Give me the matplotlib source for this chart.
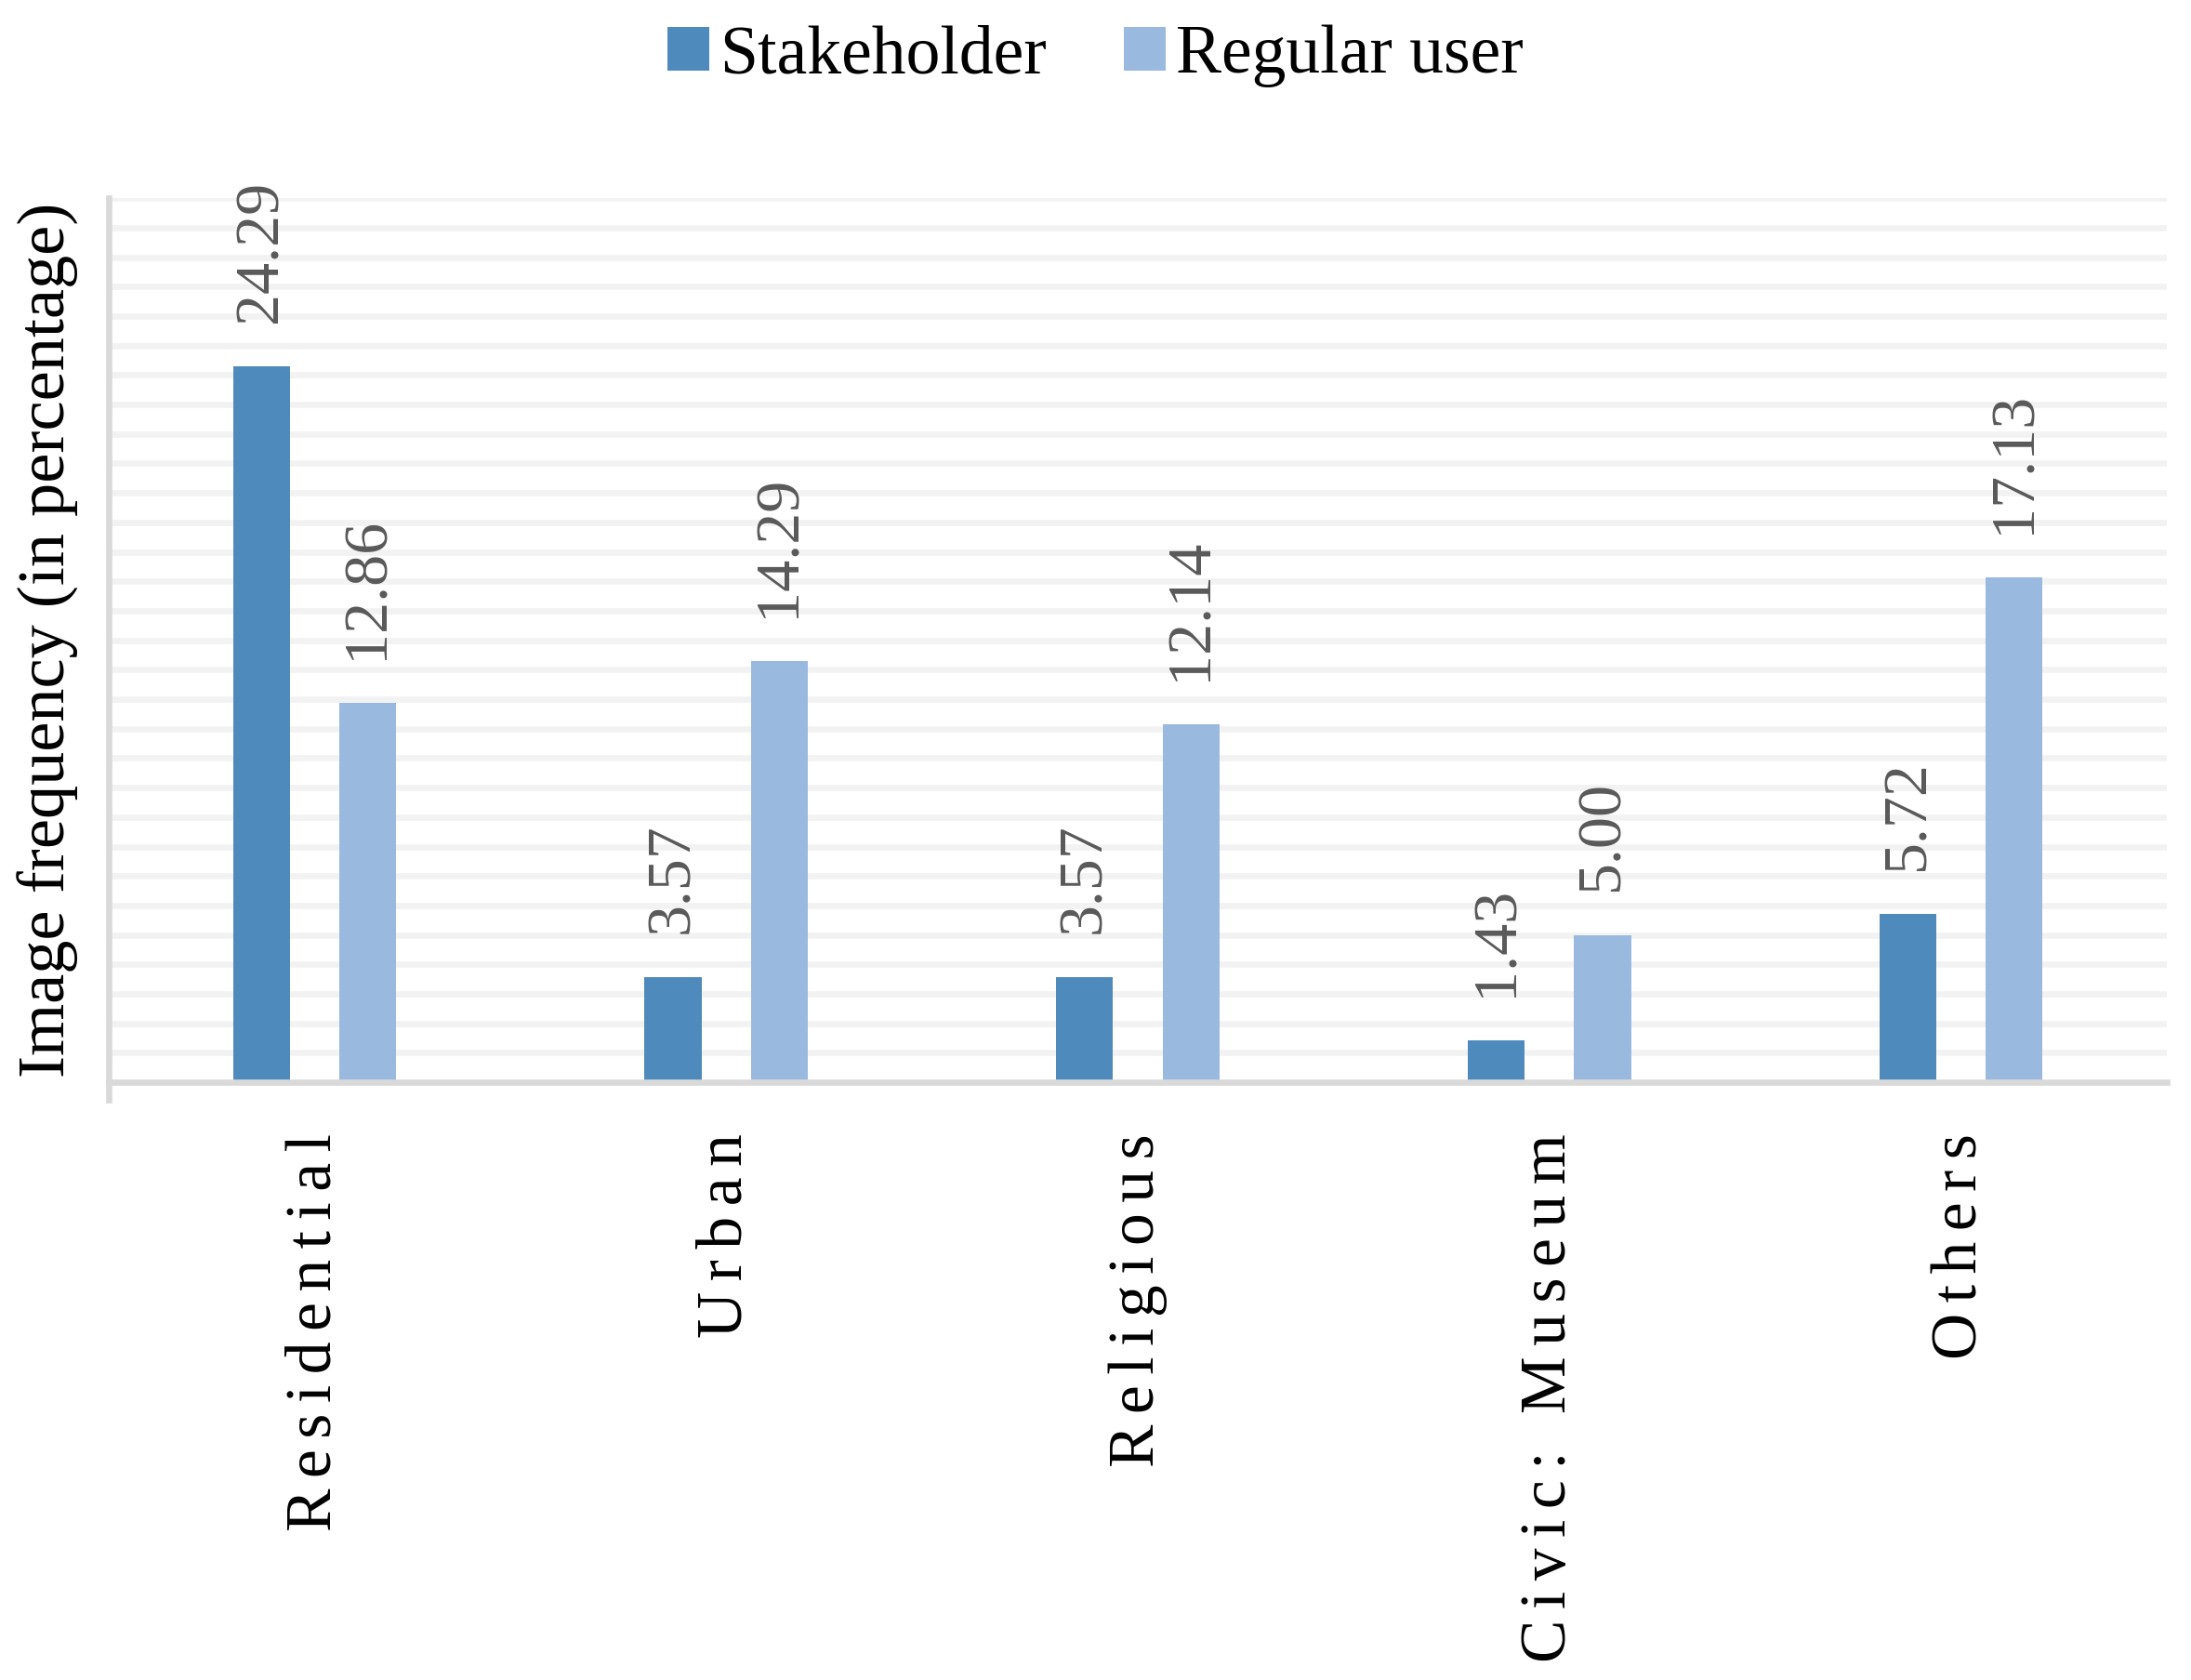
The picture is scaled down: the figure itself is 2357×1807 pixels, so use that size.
import matplotlib
matplotlib.use('Agg')
import matplotlib.pyplot as plt
import numpy as np

categories = ['Residential', 'Urban', 'Religious', 'Civic: Museum', 'Others']
stakeholder = [24.29, 3.57, 3.57, 1.43, 5.72]
regular_user = [12.86, 14.29, 12.14, 5.00, 17.13]
series_names = ['Stakeholder', 'Regular user']
y_label = 'Image frequency (in percentage)'

plt.rcParams['font.family'] = ['Liberation Serif', 'DejaVu Serif']

fig = plt.figure(figsize=(23.57, 18.07), dpi=100)
ax = fig.add_axes([0.0496, 0.3558, 0.9394, 0.5262])

x = np.arange(len(categories))
w = 0.138
off = 0.129
c1, c2 = '#4f8abd', '#99b9df'
b1 = ax.bar(x - off, stakeholder, w, color=c1, zorder=2)
b2 = ax.bar(x + off, regular_user, w, color=c2, zorder=2)

ax.set_xlim(-0.5, 4.5)
ax.set_ylim(0, 30)
ax.set_yticks(np.arange(1, 31))
ax.yaxis.grid(True, color='#f2f2f2', linewidth=4.8)
ax.set_axisbelow(True)
ax.tick_params(axis='y', length=0, labelleft=False)

ax.set_xticks(x)
ax.set_xticklabels(['\u200a\u200a'.join(c) for c in categories], rotation=90,
                   fontsize=50, ha='center', va='top')
ax.tick_params(axis='x', length=0, pad=40)
for lbl in ax.get_xticklabels():
    lbl.set_x(lbl.get_position()[0])

for s in ['top', 'right']:
    ax.spines[s].set_visible(False)
for s in ['left', 'bottom']:
    ax.spines[s].set_color('#d9d9d9')
    ax.spines[s].set_linewidth(4.8)
ax.spines['left'].set_bounds(-0.6, 30)

for bars, vals in [(b1, stakeholder), (b2, regular_user)]:
    for rect, v in zip(bars, vals):
        ax.annotate(f'{v:.2f}', (rect.get_x() + rect.get_width() / 2, v),
                    xytext=(0, 34), textcoords='offset points',
                    rotation=90, ha='center', va='bottom',
                    fontsize=49, color='#595959')

ax.set_ylabel(y_label, fontsize=52)
ax.yaxis.set_label_coords(-0.0145, 0.5)

fig.legend(handles=[b1, b2], labels=series_names, loc='center',
           bbox_to_anchor=(0.5, 0.9665), ncol=2, frameon=False, fontsize=53,
           handlelength=0.61, handleheight=0.61, handletextpad=0.15,
           columnspacing=1.13)

fig.savefig('out.png', dpi=100)
